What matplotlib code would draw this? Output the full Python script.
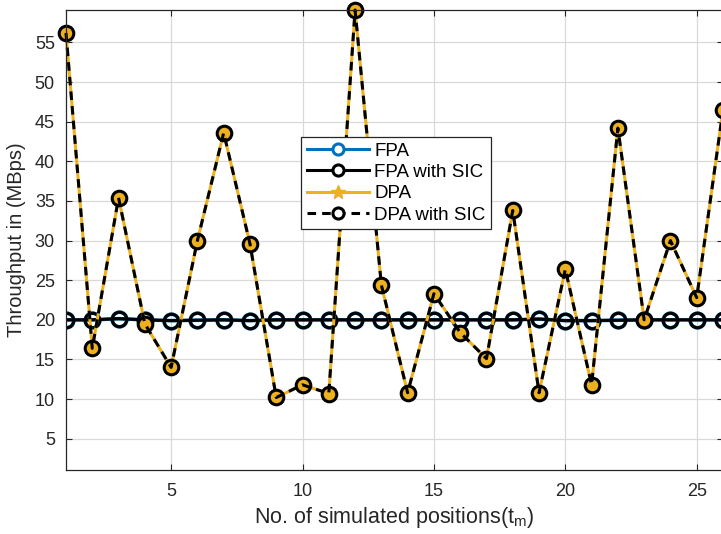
import numpy as np
import matplotlib
matplotlib.use("Agg")
import matplotlib.pyplot as plt
from matplotlib.lines import Line2D

# simulated positions
positions = list(range(1, 27))

# FPA throughput (MBps) - almost flat around 20
fpa = [20.0, 20.0, 20.15, 20.0, 19.9, 19.95, 20.0, 19.9, 20.0, 20.0,
       20.0, 20.0, 20.0, 20.0, 20.0, 20.0, 20.0, 20.0, 20.1, 19.9,
       19.9, 19.95, 20.0, 20.0, 20.0, 20.0]
fpa_sic = list(fpa)

# DPA throughput (MBps)
dpa = [56.2, 16.4, 35.4, 19.5, 14.0, 30.0, 43.6, 29.6, 10.2, 11.8,
       10.7, 59.1, 24.4, 10.8, 23.3, 18.4, 15.1, 33.8, 10.8, 26.4,
       11.8, 44.2, 20.0, 30.0, 22.8, 46.5]
dpa_sic = list(dpa)

yticks = [5, 10, 15, 20, 25, 30, 35, 40, 45, 50, 55]
xticks = [5, 10, 15, 20, 25]

plt.rcParams['font.family'] = 'Liberation Sans'
plt.rcParams['font.size'] = 13

blue = '#0072BD'
orange = '#EDB120'
txt = '#262626'

W, H = 721, 534
fig = plt.figure(figsize=(W / 100, H / 100), dpi=100)
ax = fig.add_axes([66 / W, 1 - 470 / H, (723 - 66) / W, (470 - 10) / H])

ax.plot(positions, fpa, color=blue, linewidth=2.6, marker='o', markersize=10.5,
        markerfacecolor='none', markeredgecolor=blue, markeredgewidth=2.6)
ax.plot(positions, fpa_sic, color='black', linewidth=2.2, marker='o', markersize=10.5,
        markerfacecolor='none', markeredgecolor='black', markeredgewidth=2.2)
ax.plot(positions, dpa, color=orange, linewidth=2.2, marker='o', markersize=10.5,
        markerfacecolor=orange, markeredgecolor=orange, clip_on=False)
ax.plot(positions, dpa_sic, color='black', linewidth=2.2, linestyle=(0, (2.8, 2)),
        marker='o', markersize=10.5, markerfacecolor='none', markeredgecolor='black',
        markeredgewidth=2.2, clip_on=False)

ax.set_xlim(1, 26)
ax.set_ylim(1.05, 59.1)
ax.set_xticks(xticks)
ax.set_yticks(yticks)
ax.grid(True, color='#d9d9d9', linewidth=0.9)
ax.set_axisbelow(True)
ax.tick_params(direction='in', length=4, top=True, right=True, colors=txt,
               labelsize=13, width=0.8)
ax.tick_params(axis='x', pad=9)
ax.tick_params(axis='y', pad=8)
for s in ax.spines.values():
    s.set_color(txt)
    s.set_linewidth(0.9)

ax.set_xlabel('No. of simulated positions(t$_{\\mathregular{m}}$)', fontsize=15.5,
              color=txt, labelpad=4)
ax.set_ylabel('Throughput in (MBps)', fontsize=14.5, color=txt, labelpad=6)

handles = [
    Line2D([], [], color=blue, linewidth=2.2, marker='o', markersize=8,
           markerfacecolor='white', markeredgewidth=2.2),
    Line2D([], [], color='black', linewidth=2.2, marker='o', markersize=8,
           markerfacecolor='white', markeredgewidth=2.2),
    Line2D([], [], color=orange, linewidth=2.2, marker='*', markersize=10),
    Line2D([], [], color='black', linewidth=2.2, linestyle=(0, (2.8, 2)), marker='o',
           markersize=8, markerfacecolor='white', markeredgewidth=2.2),
]
labels = ['FPA', 'FPA with SIC', 'DPA', 'DPA with SIC']
leg = ax.legend(handles, labels, loc='upper left',
                bbox_to_anchor=((301 - 66) / (723 - 66), (470 - 137) / (470 - 10)),
                fontsize=13.5, frameon=True, fancybox=False, framealpha=1,
                edgecolor=txt, handlelength=3.3, handletextpad=0.3,
                borderpad=0.3, labelspacing=0.22, borderaxespad=0)
leg.get_frame().set_linewidth(0.9)

fig.savefig('out.png', dpi=100)
